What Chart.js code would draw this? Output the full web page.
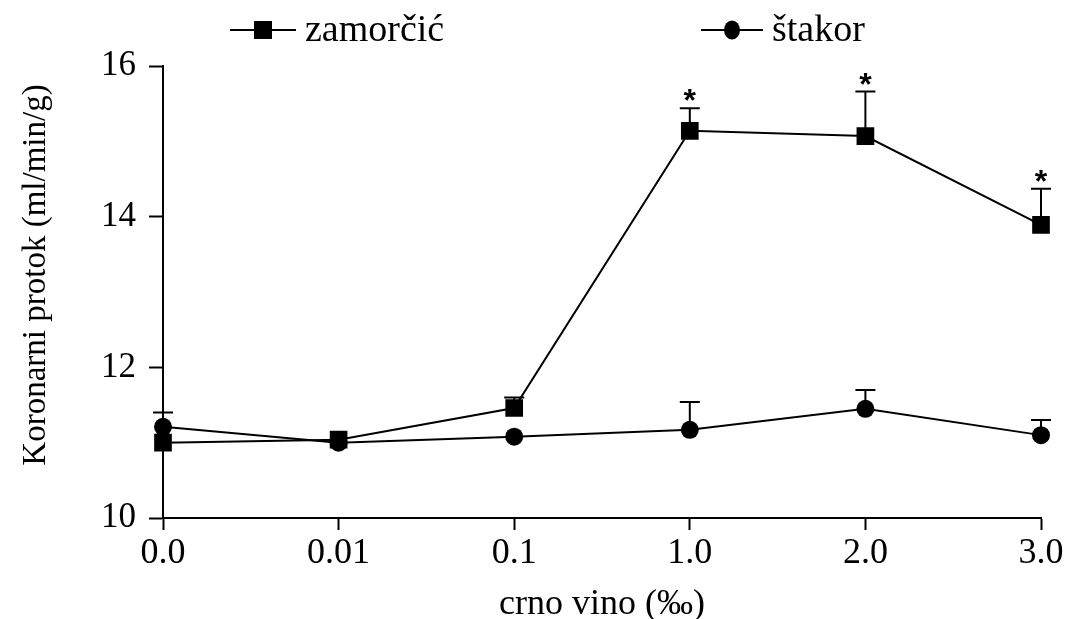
<!DOCTYPE html>
<html>
<head>
<meta charset="utf-8">
<script src="https://cdn.jsdelivr.net/npm/chart.js@4/dist/chart.umd.min.js"></script>
<style>
  html, body { margin: 0; padding: 0; background: #fff; }
  #wrap { width: 1071px; height: 619px; }
</style>
</head>
<body>
<div id="wrap"><canvas id="c"></canvas></div>
<script>
// podaci
const doses = ['0.0', '0.01', '0.1', '1.0', '2.0', '3.0'];
const zamorcic = [11.0, 11.04, 11.46, 15.14, 15.07, 13.89];
const zamorcicErr = [0, 0, 0.14, 0.30, 0.59, 0.48];
const zamorcicStar = [false, false, false, true, true, true];
const stakor = [11.21, 11.0, 11.08, 11.17, 11.45, 11.10];
const stakorErr = [0.19, 0, 0, 0.37, 0.25, 0.20];
const yTicks = [10, 12, 14, 16];

const serif = '"Liberation Serif", "Times New Roman", serif';

// error bars (samo prema gore) + zvjezdice
const errorBars = {
  id: 'errorBars',
  afterDatasetsDraw(chart) {
    const ctx = chart.ctx;
    const x = chart.scales.x, y = chart.scales.y;
    const sets = [
      { vals: zamorcic, err: zamorcicErr, star: zamorcicStar },
      { vals: stakor, err: stakorErr, star: null }
    ];
    ctx.save();
    ctx.strokeStyle = '#000';
    ctx.fillStyle = '#000';
    ctx.lineWidth = 2;
    sets.forEach(s => {
      s.vals.forEach((v, i) => {
        const px = x.getPixelForValue(i);
        const top = y.getPixelForValue(v + s.err[i]);
        if (s.err[i] > 0) {
          ctx.beginPath();
          ctx.moveTo(px, y.getPixelForValue(v));
          ctx.lineTo(px, top);
          ctx.moveTo(px - 10, top);
          ctx.lineTo(px + 10, top);
          ctx.stroke();
        }
        if (s.star && s.star[i]) {
          ctx.font = 'bold 32px "Liberation Sans", Arial, sans-serif';
          ctx.textAlign = 'center';
          ctx.textBaseline = 'alphabetic';
          ctx.fillText('*', px, top + 3);
        }
      });
    });
    ctx.restore();
  }
};

// legenda na vrhu + naslov y osi
const topLegend = {
  id: 'topLegend',
  afterDraw(chart) {
    const ctx = chart.ctx;
    const items = [
      { label: 'zamorčić', x0: 230, x1: 296, shape: 'rect' },
      { label: 'štakor', x0: 701, x1: 763, shape: 'circle' }
    ];
    ctx.save();
    ctx.strokeStyle = '#000';
    ctx.fillStyle = '#000';
    ctx.lineWidth = 2;
    const ly = 30;
    items.forEach(it => {
      ctx.beginPath();
      ctx.moveTo(it.x0, ly);
      ctx.lineTo(it.x1, ly);
      ctx.stroke();
      const cx = (it.x0 + it.x1) / 2;
      ctx.beginPath();
      if (it.shape === 'rect') ctx.rect(cx - 9, ly - 9, 18, 18);
      else ctx.ellipse(cx, ly, 8, 9.5, 0, 0, Math.PI * 2);
      ctx.fill();
      ctx.font = '38px ' + serif;
      ctx.textAlign = 'left';
      ctx.textBaseline = 'alphabetic';
      ctx.fillText(it.label, it.x1 + 9, 41);
    });

    ctx.translate(36, 275);
    ctx.rotate(-Math.PI / 2);
    ctx.font = '33px ' + serif;
    ctx.textAlign = 'center';
    ctx.textBaseline = 'middle';
    ctx.fillText('Koronarni protok (ml/min/g)', 0, 0);
    ctx.restore();
  }
};

new Chart(document.getElementById('c'), {
  type: 'line',
  data: {
    labels: doses,
    datasets: [
      {
        label: 'zamorčić',
        data: zamorcic,
        borderColor: '#000',
        backgroundColor: '#000',
        borderWidth: 2,
        pointStyle: 'rect',
        pointRadius: 12.5,
        pointBorderWidth: 0,
        tension: 0
      },
      {
        label: 'štakor',
        data: stakor,
        borderColor: '#000',
        backgroundColor: '#000',
        borderWidth: 2,
        pointStyle: 'circle',
        pointRadius: 9,
        pointBorderWidth: 0,
        tension: 0
      }
    ]
  },
  options: {
    responsive: true,
    maintainAspectRatio: false,
    animation: false,
    layout: { padding: { top: 66, right: 30, left: 0, bottom: 0 } },
    plugins: {
      legend: { display: false },
      tooltip: { enabled: false }
    },
    scales: {
      x: {
        type: 'category',
        offset: false,
        grid: {
          drawOnChartArea: false,
          drawTicks: true,
          tickLength: 12,
          tickColor: '#000',
          tickWidth: 2
        },
        border: { color: '#000', width: 2 },
        ticks: {
          color: '#000',
          font: { family: serif, size: 36 },
          padding: 2,
          maxRotation: 0
        },
        title: {
          display: true,
          text: 'crno vino (‰)',
          color: '#000',
          font: { family: serif, size: 36, lineHeight: 0.8 },
          padding: { top: 0, bottom: 0 }
        },
        afterFit(scale) { scale.height = 101; }
      },
      y: {
        min: 10,
        max: 16,
        afterBuildTicks(scale) { scale.ticks = yTicks.map(v => ({ value: v })); },
        grid: {
          drawOnChartArea: false,
          drawTicks: true,
          tickLength: 14,
          tickColor: '#000',
          tickWidth: 2
        },
        border: { color: '#000', width: 2 },
        ticks: {
          color: '#000',
          font: { family: serif, size: 35 },
          padding: 13
        },
        title: { display: false },
        afterFit(scale) { scale.width = 163; }
      }
    }
  },
  plugins: [errorBars, topLegend]
});
</script>
</body>
</html>
